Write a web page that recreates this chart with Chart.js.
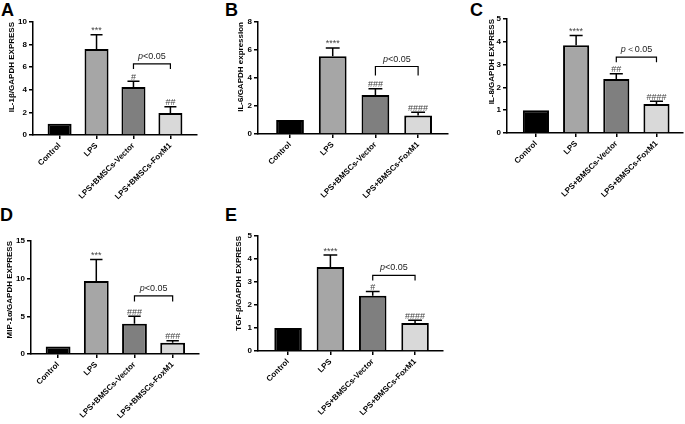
<!DOCTYPE html>
<html>
<head>
<meta charset="utf-8">
<script src="https://cdn.jsdelivr.net/npm/chart.js@4.4.1/dist/chart.umd.min.js"></script>
<style>
body { margin: 0; background: #fff; width: 685px; height: 424px; overflow: hidden; position: relative; font-family: "Liberation Sans", Arial, sans-serif; }
canvas { position: absolute; }
.tag { position: absolute; font-weight: bold; font-size: 18px; line-height: 1; color: #000; }
</style>
</head>
<body>
<div class="tag" style="left:1px;top:1px">A</div>
<div class="tag" style="left:225px;top:1px">B</div>
<div class="tag" style="left:470px;top:1px">C</div>
<div class="tag" style="left:0px;top:206px">D</div>
<div class="tag" style="left:225px;top:206px">E</div>
<canvas id="cA" width="230" height="212" style="left:0;top:0"></canvas>
<canvas id="cB" width="225" height="212" style="left:228px;top:0"></canvas>
<canvas id="cC" width="207" height="212" style="left:478px;top:0"></canvas>
<canvas id="cD" width="230" height="212" style="left:0;top:212px"></canvas>
<canvas id="cE" width="225" height="212" style="left:228px;top:212px"></canvas>
<script>
// groups and bar fills, same in all five panels
const groups = ['Control', 'LPS', 'LPS+BMSCs-Vector', 'LPS+BMSCs-FoxM1'];
const barColors = ['#000000', '#a6a6a6', '#7f7f7f', '#d9d9d9'];

// A  IL-1beta
const il1bMean = [1.0, 7.6, 4.25, 1.95];
const il1bErr = [0, 1.27, 0.5, 0.55];
const il1bMarks = ['', '***', '#', '##'];
const il1bBracket = [6.3, 5.85];

// B  IL-6
const il6Mean = [1.0, 5.55, 2.78, 1.32];
const il6Err = [0, 0.6, 0.45, 0.24];
const il6Marks = ['', '****', '###', '####'];
const il6Bracket = [4.82, 4.18];

// C  IL-8
const il8Mean = [1.0, 3.85, 2.37, 1.27];
const il8Err = [0, 0.43, 0.23, 0.12];
const il8Marks = ['', '****', '##', '####'];
const il8Bracket = [3.33, 3.1];

// D  MIP-1alpha
const mipMean = [1.0, 9.7, 4.0, 1.48];
const mipErr = [0, 2.85, 1.0, 0.27];
const mipMarks = ['', '***', '###', '###'];
const mipBracket = [7.72, 6.96];

// E  TGF-beta
const tgfMean = [1.0, 3.65, 2.4, 1.22];
const tgfErr = [0, 0.52, 0.19, 0.12];
const tgfMarks = ['', '****', '#', '####'];
const tgfBracket = [3.29, 3.07];

const FONT = '"Liberation Sans", Arial, sans-serif';
Chart.defaults.font.family = FONT;
Chart.defaults.color = '#000';

// error bars, star/hash marks and the p bracket
const extras = {
  id: 'extras',
  afterDatasetsDraw(chart) {
    const p = chart.options.plugins.extras;
    const ctx = chart.ctx;
    const y = chart.scales.y;
    const bars = chart.getDatasetMeta(0).data;
    ctx.save();
    ctx.strokeStyle = '#000';
    ctx.lineWidth = 1.5;
    bars.forEach((b, i) => {
      const top = y.getPixelForValue(p.mean[i] + p.err[i]);
      if (p.err[i] > 0) {
        const w = b.width * 0.5;
        ctx.beginPath();
        ctx.moveTo(b.x, b.y);
        ctx.lineTo(b.x, top);
        ctx.moveTo(b.x - w / 2, top);
        ctx.lineTo(b.x + w / 2, top);
        ctx.stroke();
      }
      if (p.marks[i]) {
        ctx.fillStyle = '#444';
        ctx.font = '9px ' + FONT;
        ctx.textAlign = 'center';
        ctx.textBaseline = 'alphabetic';
        ctx.fillText(p.marks[i], b.x, top - 1.5);
      }
    });

    const x1 = bars[2].x, x2 = bars[3].x;
    const yb = y.getPixelForValue(p.bracket[0]);
    const ye = y.getPixelForValue(p.bracket[1]);
    ctx.lineWidth = 1.2;
    ctx.beginPath();
    ctx.moveTo(x1, ye);
    ctx.lineTo(x1, yb);
    ctx.lineTo(x2, yb);
    ctx.lineTo(x2, ye);
    ctx.stroke();

    ctx.fillStyle = '#222';
    ctx.textAlign = 'left';
    ctx.font = 'italic 9px ' + FONT;
    const wp = ctx.measureText('p').width;
    ctx.font = '9px ' + FONT;
    const wr = ctx.measureText(p.sig).width;
    const sx = (x1 + x2) / 2 - (wp + wr) / 2;
    ctx.font = 'italic 9px ' + FONT;
    ctx.fillText('p', sx, yb - 5);
    ctx.font = '9px ' + FONT;
    ctx.fillText(p.sig, sx + wp, yb - 5);
    ctx.restore();
  }
};

function panel(id, title, mean, err, marks, bracket, sig, yMax, yStep, lay) {
  new Chart(document.getElementById(id), {
    type: 'bar',
    data: {
      datasets: [{
        data: mean.map((v, i) => ({ x: i, y: v })),
        backgroundColor: barColors,
        borderColor: '#000',
        borderWidth: 2,
        borderSkipped: 'start',
        barPercentage: 0.65,
        categoryPercentage: 1
      }]
    },
    options: {
      responsive: false,
      animation: false,
      layout: { padding: { top: lay.top, right: lay.right, left: 0, bottom: 0 } },
      plugins: {
        legend: { display: false },
        tooltip: { enabled: false },
        extras: { mean: mean, err: err, marks: marks, bracket: bracket, sig: sig }
      },
      scales: {
        x: {
          type: 'linear',
          min: lay.xMin,
          max: lay.xMax,
          offset: false,
          grid: { offset: false, drawOnChartArea: false, tickLength: 4, color: '#000', lineWidth: 1.5 },
          border: { color: '#000', width: 1.5 },
          afterBuildTicks: s => { s.ticks = groups.map((g, i) => ({ value: i })); },
          afterFit: s => { s.height = lay.xH; },
          ticks: {
            autoSkip: false,
            minRotation: 45,
            maxRotation: 45,
            padding: 2,
            color: '#000',
            font: { size: 8, weight: 'bold' },
            callback: v => groups[v]
          }
        },
        y: {
          min: 0,
          max: yMax,
          grid: { drawOnChartArea: false, tickLength: 4, color: '#000', lineWidth: 1.5 },
          border: { color: '#000', width: 1.5 },
          afterFit: s => { s.width = lay.yW; },
          ticks: { stepSize: yStep, padding: 2, color: '#000', font: { size: 8, weight: 'bold' } },
          title: {
            display: true,
            text: title,
            align: 'end',
            color: '#000',
            font: { size: 8, weight: 'bold' },
            padding: { top: lay.tp, bottom: 0 }
          }
        }
      }
    },
    plugins: [extras]
  });
}

panel('cA', 'IL-1β/GAPDH EXPRESS', il1bMean, il1bErr, il1bMarks, il1bBracket, '<0.05', 10, 2,
  { top: 22, right: 33, yW: 33, xH: 77, xMin: -0.72, xMax: 3.72, tp: 7 });
panel('cB', 'IL-6/GAPDH expression', il6Mean, il6Err, il6Marks, il6Bracket, '<0.05', 8, 2,
  { top: 22, right: 5, yW: 30, xH: 78, xMin: -0.75, xMax: 3.7, tp: 8 });
panel('cC', 'IL-8/GAPDH EXPRESS', il8Mean, il8Err, il8Marks, il8Bracket, '＜0.05', 5, 1,
  { top: 19, right: 2, yW: 29, xH: 79, xMin: -0.72, xMax: 3.66, tp: 9 });
panel('cD', 'MIP-1α/GAPDH EXPRESS', mipMean, mipErr, mipMarks, mipBracket, '<0.05', 15, 5,
  { top: 29, right: 31, yW: 31, xH: 70, xMin: -0.71, xMax: 3.69, tp: 5 });
panel('cE', 'TGF-β/GAPDH EXPRESS', tgfMean, tgfErr, tgfMarks, tgfBracket, '<0.05', 5, 1,
  { top: 24, right: 10, yW: 30, xH: 73, xMin: -0.71, xMax: 3.66, tp: 5.5 });
</script>
</body>
</html>
